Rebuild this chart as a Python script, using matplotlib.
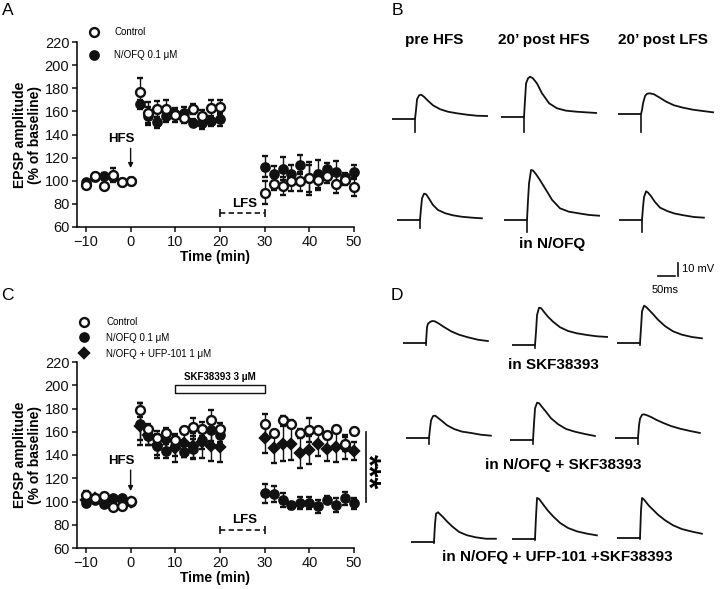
"""Multi-panel LTP/depotentiation figure: time courses (A, C) and EPSP traces (B, D)."""

import numpy as np
import matplotlib

matplotlib.use("Agg")
import matplotlib.pyplot as plt
from matplotlib.lines import Line2D

plt.rcParams.update({
    "font.family": ["Liberation Sans", "DejaVu Sans"],
    "axes.linewidth": 1.1,
    "xtick.major.width": 1.1,
    "ytick.major.width": 1.1,
    "xtick.major.size": 3.5,
    "ytick.major.size": 3.5,
})

# ---- time-course data (% of baseline) ------------------------------------
TIME = list(range(-10, 1, 2)) + list(range(2, 21, 2)) + list(range(30, 51, 2))

A_CONTROL = [96, 104, 95.5, 105, 98.6, 100,
             177, 159, 162, 162, 157, 154.6, 162, 156, 163, 163.5,
             89.7, 97, 95.5, 99.5, 99.5, 102, 100.4, 104, 97.2, 100.4, 94.6]
A_CONTROL_SEM = [2, 3, 2, 6, 2, 2,
                 12, 9, 7, 8, 6, 5, 4, 5, 7, 6,
                 10, 5, 8, 8, 8, 14, 8, 6, 8, 4, 8]
A_NOFQ = [99, 103, 104, 103, 99, 100,
          166, 156, 150.5, 156, 158, 159, 150, 150, 151.4, 153.4,
          112, 106, 110.5, 105.6, 114, 102, 106, 110.5, 107.3, 103, 107.3]
A_NOFQ_SEM = [2, 3, 3, 3, 2, 2,
              4, 8, 5, 5, 4, 5, 3, 5, 4, 6,
              9, 7, 10, 8, 8, 12, 12, 5, 10, 4, 6]

C_CONTROL = [105.7, 102.9, 104.9, 94.9, 96.3, 100.5,
             179.1, 162, 154.3, 159.1, 152.9, 161.1, 164, 162.6, 169.7, 162.6,
             166.3, 158.6, 169.7, 166.9, 159.1, 161.4, 161.4, 156.9, 162, 149.7, 160.6]
C_CONTROL_SEM = [3, 2, 2, 2, 2, 2,
                 6, 5, 4, 3, 4, 3, 8, 6, 9, 5,
                 9, 3, 4, 3, 3, 10, 3, 3, 3, 6, 3]
C_NOFQ = [99.1, 101, 97.7, 102.6, 102.6, 100,
          166.9, 156.3, 148, 143.5, 147.5, 143, 145.5, 153, 161.8, 157,
          106.9, 106.3, 101.4, 96.9, 98.6, 98.6, 95.7, 101.4, 96.9, 102.6, 98.3]
C_NOFQ_SEM = [2, 2, 2, 2, 2, 2,
              18, 8, 8, 6, 8, 5, 8, 8, 10, 6,
              8, 7, 6, 3, 5, 5, 6, 3, 6, 6, 5]
C_UFP = [101, 103, 100, 101, 101, 100,
         165, 157, 149, 152.5, 146, 150.5, 147.5, 151, 148, 147,
         154.3, 146.3, 149.7, 149.7, 141.4, 144, 149.1, 144.9, 146.9, 146.9, 143.4]
C_UFP_SEM = [3, 2, 3, 2, 2, 2,
             12, 8, 12, 11, 12, 12, 11, 14, 13, 13,
             13, 13, 15, 14, 13, 12, 10, 10, 13, 10, 8]

# protocol timing (min)
HFS_TIME = 0
LFS_WINDOW = [20, 30]
SKF_WINDOW = [10, 30]

# ---- EPSP traces: mV above baseline at common times (ms from stimulus) ------
T_MS = [-65, 0, 3, 6, 12, 18, 26, 38, 53, 74, 97, 123, 153, 182, 212]
nan = np.nan
B_CONTROL = [
    [0, 0, 6.9, 15.2, 18.2, 18.7, 17.2, 14.1, 10.5, 7.5, 5.6, 4.4, 3.3, 2.5, 2.3],
    [0, 0, 13.1, 25.9, 29.8, 31.0, 29.8, 25.9, 18.2, 10.5, 6.7, 4.9, 4.1, 3.6, 3.1],
    [0, 0, 3.1, 8.2, 13.9, 15.6, 15.9, 15.2, 12.9, 9.5, 6.7, 4.9, 3.3, 2.3, 1.3],
]
B_NOFQ = [
    [0, 0, 9.0, 16.7, 20.3, 19.8, 16.7, 11.6, 7.7, 5.2, 3.6, 2.5, 1.8, 1.3, nan],
    [0, 0, 15.4, 28.2, 38.5, 38.0, 35.4, 30.8, 24.4, 15.4, 9.0, 6.4, 5.1, 3.9, 3.3],
    [0, 0, 10.0, 17.7, 22.1, 21.0, 18.5, 13.9, 9.5, 6.9, 4.9, 3.6, 2.3, 1.8, nan],
]
D_SKF = [
    [0, 0, 12.3, 14.9, 16.2, 16.9, 16.7, 14.9, 12.3, 9.0, 6.4, 4.4, 2.5, 1.5, nan],
    [0, 0, 10.2, 23.1, 28.7, 28.3, 25.6, 21.8, 17.9, 13.6, 10.8, 9.0, 7.7, 6.7, 6.2],
    [0, 0, 11.6, 24.4, 28.7, 27.7, 25.6, 22.3, 17.9, 12.9, 9.0, 6.4, 4.6, 3.6, nan],
]
D_NOFQ_SKF = [
    [0, 0, 7.2, 13.6, 16.9, 17.2, 15.6, 13.1, 9.8, 6.9, 4.9, 3.9, 2.5, 1.8, nan],
    [0, 0, 12.8, 24.4, 28.7, 28.3, 25.6, 21.8, 16.7, 12.1, 8.5, 6.4, 4.6, 3.1, nan],
    [0, 0, 9.8, 14.9, 17.9, 18.2, 17.5, 16.2, 14.1, 11.6, 9.2, 7.2, 5.4, 3.9, nan],
]
D_NOFQ_UFP_SKF = [
    [0, 0, 14.1, 21.8, 22.9, 21.3, 19.3, 15.9, 12.1, 7.7, 5.2, 3.6, 2.5, 2.5, nan],
    [0, 0, 17.5, 31.6, 30.8, 28.7, 25.9, 21.8, 17.5, 12.3, 8.5, 5.9, 4.1, 2.8, nan],
    [0, 0, 21.6, 30.8, 29.5, 27.5, 24.9, 21.8, 17.9, 13.6, 9.8, 6.9, 4.9, 3.3, nan],
]
ARTIFACT_MV = [9.8, 11.3, 13.6, 6.4, 9.0, 9.2,
               1.8, 2.5, 1.8, 4.4, 3.1, 4.4, 1.0, 1.0, 1.0]

# ---- layout (figure pixels) --------------------------------------------------
W, H = 720, 589
PX_PER_MS = 0.34
PX_PER_MV = 1.3
TRACE_ANCHORS = [(415, 119), (524, 117), (641, 114),
                 (420, 220), (527, 220), (642, 220),
                 (426, 343), (535, 345), (640, 343),
                 (429, 438), (533, 440), (638, 438),
                 (434, 542), (535, 539), (640, 538)]
INK = "#111111"
MS_OPEN, MS_FILL, MS_DIAM = 6.4, 6.0, 5.6


def fx(px):
    return px / W


def fy(py):
    return 1 - py / H


def axes_box(left, top, right, bottom):
    return [fx(left), fy(bottom), fx(right) - fx(left), fy(top) - fy(bottom)]


def style_axis(ax):
    ax.set_xlim(-12, 50)
    ax.set_ylim(60, 220)
    ax.set_xticks(range(-10, 51, 10))
    ax.set_yticks(range(60, 221, 20))
    ax.spines[["top", "right"]].set_visible(False)
    ax.tick_params(labelsize=10.5, colors=INK, pad=2)
    ax.set_xlabel("Time (min)", fontsize=10, fontweight="bold", labelpad=1)
    ax.set_ylabel("EPSP amplitude\n(% of baseline)", fontsize=10,
                  fontweight="bold", labelpad=2, linespacing=1.05)
    ax.patch.set_alpha(0)


def series(ax, y, err, marker, face, size, z):
    cont = ax.errorbar(TIME, y, yerr=err, fmt=marker, color=INK, mfc=face,
                       mec=INK, ms=size, mew=1.7, ecolor=INK, elinewidth=1.0,
                       capsize=2.0, capthick=1.0, zorder=z)
    for art in cont.lines[1] + cont.lines[2] + (cont.lines[0],):
        art.set_clip_on(False)
    return cont


def protocol_marks(ax, lfs_y, hfs_top, hfs_bottom, lfs_label_y):
    ax.annotate("", xy=(HFS_TIME, hfs_bottom), xytext=(HFS_TIME, hfs_top),
                arrowprops=dict(arrowstyle="-|>", color=INK, lw=1.0,
                                mutation_scale=7, shrinkA=0, shrinkB=0))
    ax.text(HFS_TIME - 2, hfs_top + 3, "HFS", ha="center", va="bottom",
            fontsize=9.5, fontweight="bold")
    ax.plot(LFS_WINDOW, [lfs_y, lfs_y], ls=(0, (3.2, 2)), color=INK, lw=1.2)
    ax.plot(LFS_WINDOW, [lfs_y, lfs_y], ls="none", marker="|", ms=6,
            mew=1.2, color=INK)
    ax.text(np.mean(LFS_WINDOW) + 0.5, lfs_label_y, "LFS", ha="center",
            va="bottom", fontsize=9.5, fontweight="bold")


def legend_handles(kinds):
    styles = {"open": ("o", "white", MS_OPEN), "filled": ("o", INK, MS_FILL),
              "diamond": ("D", INK, MS_DIAM)}
    return [Line2D([], [], ls="none", marker=styles[k][0], ms=styles[k][2],
                   mew=1.7, mfc=styles[k][1], mec=INK) for k in kinds]


fig = plt.figure(figsize=(7.2, 5.89), dpi=100)

# ---- panel A -------------------------------------------------------------------
axA = fig.add_axes(axes_box(77, 42, 354, 227))
style_axis(axA)
series(axA, A_NOFQ, A_NOFQ_SEM, "o", INK, MS_FILL, 3)
series(axA, A_CONTROL, A_CONTROL_SEM, "o", "white", MS_OPEN, 4)
protocol_marks(axA, 72, 128, 111, 75)
axA.legend(legend_handles(["open", "filled"]), ["Control", "N/OFQ 0.1 \u03bcM"],
           loc="upper left", bbox_to_anchor=(fx(89), fy(27)),
           bbox_transform=fig.transFigure, frameon=False, fontsize=7,
           handlelength=1.0, handletextpad=1.6, labelspacing=1.35,
           borderpad=0, borderaxespad=0)

# ---- panel C -------------------------------------------------------------------
axC = fig.add_axes(axes_box(77, 362, 354, 548))
style_axis(axC)
series(axC, C_UFP, C_UFP_SEM, "D", INK, MS_DIAM, 2)
series(axC, C_NOFQ, C_NOFQ_SEM, "o", INK, MS_FILL, 3)
series(axC, C_CONTROL, C_CONTROL_SEM, "o", "white", MS_OPEN, 4)
protocol_marks(axC, 75.8, 127, 109, 79)
axC.fill_between(SKF_WINDOW, 193.3, 200.5, facecolor="white", edgecolor=INK, lw=1.0)
axC.text(np.mean(SKF_WINDOW), 202.5, "SKF38393 3 \u03bcM", ha="center",
         va="bottom", fontsize=7, fontweight="bold")
axC.plot([52.6, 52.6], [100, 160], color=INK, lw=1.2, clip_on=False)
fig.text(fx(367), fy(472), "***", rotation=270, ha="center", va="center",
         fontsize=22, fontweight="bold")
axC.legend(legend_handles(["open", "filled", "diamond"]),
           ["Control", "N/OFQ 0.1 \u03bcM", "N/OFQ + UFP-101 1 \u03bcM"],
           loc="upper left", bbox_to_anchor=(fx(79), fy(317)),
           bbox_transform=fig.transFigure, frameon=False, fontsize=7,
           handlelength=1.0, handletextpad=1.8, labelspacing=0.6,
           borderpad=0, borderaxespad=0)

# ---- traces (B, D) in ms / mV units ---------------------------------------------
axT = fig.add_axes([0, 0, 1, 1], zorder=-1)
axT.set_xlim(0, W / PX_PER_MS)
axT.set_ylim(-H / PX_PER_MV, 0)
axT.axis("off")
traces = B_CONTROL + B_NOFQ + D_SKF + D_NOFQ_SKF + D_NOFQ_UFP_SKF
for values, depth, (sx, sy) in zip(traces, ARTIFACT_MV, TRACE_ANCHORS):
    x0 = sx / PX_PER_MS
    y0 = -sy / PX_PER_MV
    axT.plot(np.array(T_MS) + x0, np.array(values) + y0, color=INK, lw=1.3,
             solid_joinstyle="round")
    axT.plot([x0, x0], [y0, y0 - depth], color=INK, lw=1.2)

# scale bar: 50 ms x 10 mV
bar_x = 658 / PX_PER_MS
bar_y = -276 / PX_PER_MV
axT.plot([bar_x, bar_x + 50], [bar_y, bar_y], color=INK, lw=1.2)
axT.plot([bar_x + 60, bar_x + 60], [bar_y, bar_y + 10], color=INK, lw=1.2)
fig.text(fx(682), fy(269), "10 mV", fontsize=8, va="center")
fig.text(fx(652), fy(290), "50ms", fontsize=8, va="center")

# ---- texts -----------------------------------------------------------------------
for letter, x, y in [("A", 2, 3), ("B", 392, 3), ("C", 1, 288), ("D", 391, 288)]:
    fig.text(fx(x), fy(y), letter, fontsize=12.5, va="top", ha="left")

bold = dict(fontsize=11, fontweight="bold", ha="center", va="center")
fig.text(fx(434), fy(40), "pre HFS", **bold)
fig.text(fx(544), fy(40), "20\u2019 post HFS", **bold)
fig.text(fx(663), fy(40), "20\u2019 post LFS", **bold)
fig.text(fx(552), fy(244), "in N/OFQ", **bold)
fig.text(fx(553), fy(365), "in SKF38393", **bold)
fig.text(fx(563), fy(465), "in N/OFQ + SKF38393", **bold)
fig.text(fx(557), fy(557), "in N/OFQ + UFP-101 +SKF38393", **bold)

fig.savefig("out.png", dpi=100, facecolor="white")
